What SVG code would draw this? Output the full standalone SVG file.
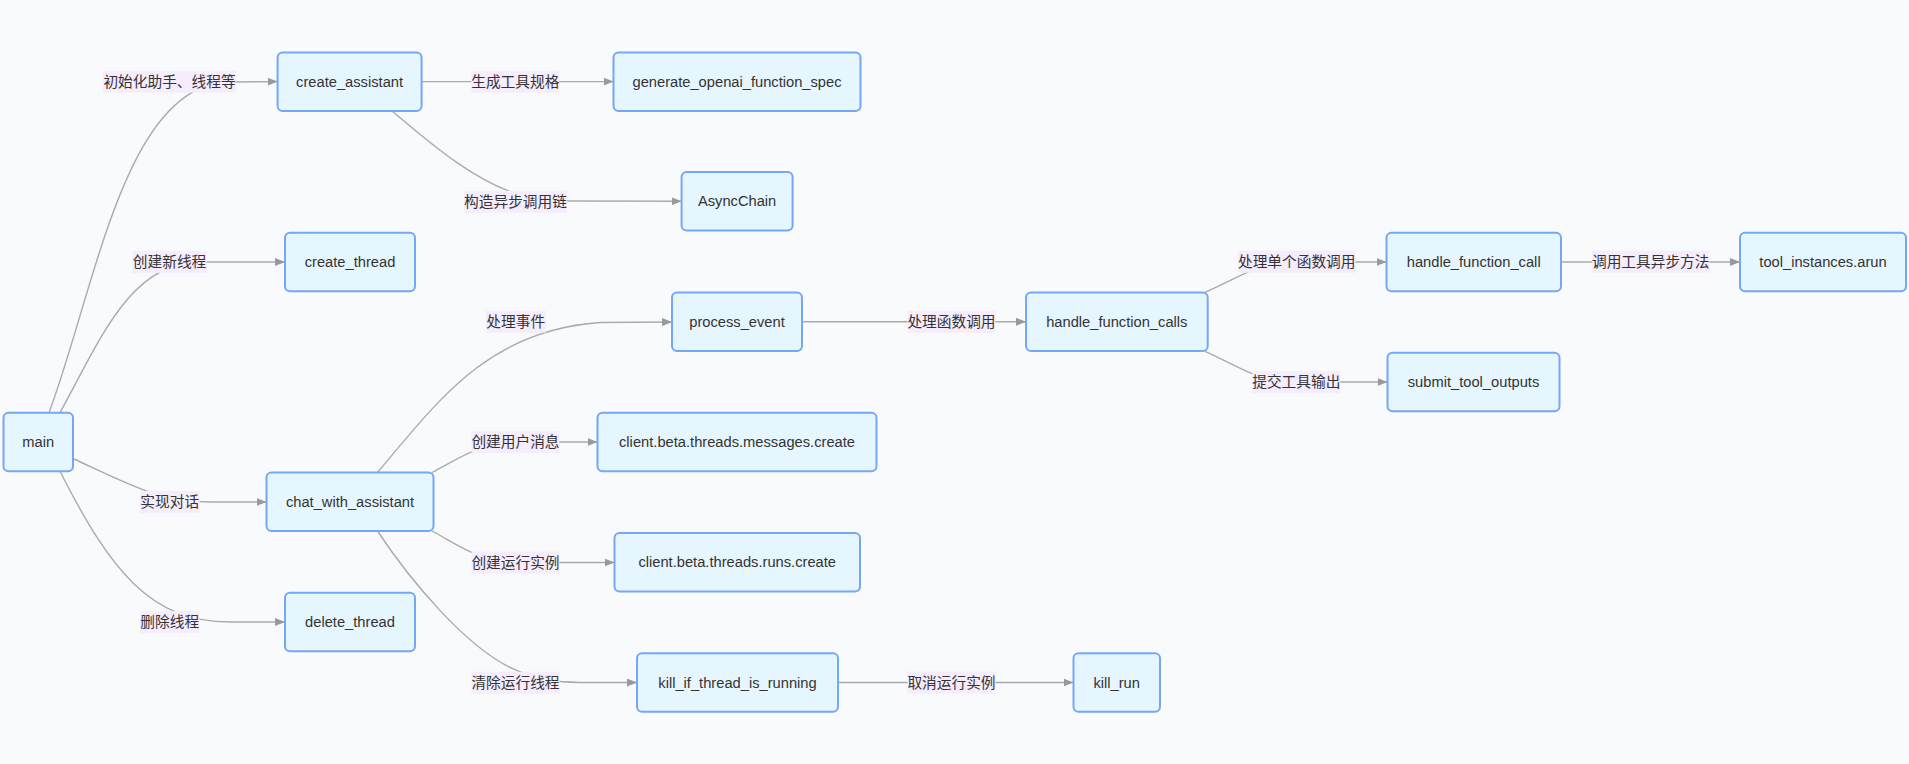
<svg xmlns="http://www.w3.org/2000/svg" width="1909" height="764" viewBox="0 0 1909 764">
<defs>
<style>
.node rect{fill:#e6f6ff;stroke:#76a6f7;stroke-width:2}
.node text{font-family:"Liberation Sans","Noto Sans CJK SC",sans-serif;font-size:14.7px;fill:#333;text-anchor:middle;dominant-baseline:central}
.edges path{fill:none;stroke:#aaaaaa;stroke-width:1.4}
.lbl rect{fill:#f5ecfc}
.lbl text{font-family:"Liberation Sans","Noto Sans CJK SC",sans-serif;font-size:14.7px;fill:#333;text-anchor:middle;dominant-baseline:central}
</style>
<marker id="arr" viewBox="0 0 10 8" refX="10" refY="4" markerWidth="10" markerHeight="8" markerUnits="userSpaceOnUse" orient="auto">
<path d="M0,0 L10,4 L0,8 z" fill="#999"/>
</marker>
</defs>
<rect x="0" y="0" width="1909" height="764" fill="#f9fafc"/>

<g class="edges">
<path marker-end="url(#arr)" d="M49,412.7 C95,290 125,82 230,82 L277.6,81.6"/>
<path marker-end="url(#arr)" d="M60,412.7 C100,340 130,262 200,262 L285,262"/>
<path marker-end="url(#arr)" d="M74,459 C130,485 160,502 210,502 L266.5,502"/>
<path marker-end="url(#arr)" d="M60,471.2 C110,570 150,622 230,622 L285,622"/>
<path marker-end="url(#arr)" d="M421.6,81.6 L613.5,81.6"/>
<path marker-end="url(#arr)" d="M392,111 C420,134 470,180 520,195 C545,201 560,201 580,201 L681.6,201.3"/>
<path marker-end="url(#arr)" d="M377.5,472.5 C440,398 490,330 600,322.5 L672,322"/>
<path marker-end="url(#arr)" d="M432,472.5 C460,458 480,442 520,442 L597.5,442"/>
<path marker-end="url(#arr)" d="M432,531 C460,546 480,562.5 520,562.5 L614.5,562.5"/>
<path marker-end="url(#arr)" d="M377.5,531 C400,565 470,660 530,675 C550,681 560,682.5 590,682.5 L637,682.5"/>
<path marker-end="url(#arr)" d="M802,321.8 L1026,321.8"/>
<path marker-end="url(#arr)" d="M1205,292.3 C1240,277 1260,262 1290,262 L1386.5,262"/>
<path marker-end="url(#arr)" d="M1205,351.3 C1240,367 1260,382 1290,382 L1387.5,382"/>
<path marker-end="url(#arr)" d="M1561,262 L1740,262"/>
<path marker-end="url(#arr)" d="M838,682.5 L1073.5,682.5"/>
</g>

<g class="lbl">
<rect x="103" y="70.7" width="133" height="22"/><text x="169.5" y="81.7">初始化助手、线程等</text>
<rect x="132.6" y="251" width="74" height="22"/><text x="169.6" y="262">创建新线程</text>
<rect x="140" y="491" width="59.5" height="22"/><text x="169.7" y="502">实现对话</text>
<rect x="140" y="611" width="59.5" height="22"/><text x="169.7" y="622">删除线程</text>
<rect x="471.3" y="70.7" width="88" height="22"/><text x="515.3" y="81.7">生成工具规格</text>
<rect x="464" y="190.7" width="103" height="22"/><text x="515.5" y="201.7">构造异步调用链</text>
<rect x="486" y="310.7" width="59.5" height="22"/><text x="515.7" y="321.7">处理事件</text>
<rect x="471.5" y="431" width="88" height="22"/><text x="515.5" y="442">创建用户消息</text>
<rect x="471.5" y="551.5" width="88" height="22"/><text x="515.5" y="562.5">创建运行实例</text>
<rect x="471.5" y="671.7" width="88" height="22"/><text x="515.5" y="682.7">清除运行线程</text>
<rect x="907.5" y="310.7" width="88" height="22"/><text x="951.5" y="321.7">处理函数调用</text>
<rect x="907.5" y="671.5" width="88" height="22"/><text x="951.5" y="682.5">取消运行实例</text>
<rect x="1238" y="250.7" width="117.5" height="22"/><text x="1296.7" y="261.7">处理单个函数调用</text>
<rect x="1252.3" y="371" width="88" height="22"/><text x="1296.3" y="382">提交工具输出</text>
<rect x="1592" y="250.7" width="117.5" height="22"/><text x="1650.7" y="261.7">调用工具异步方法</text>
</g>

<g id="main" class="node"><rect x="3.5" y="412.7" width="69.5" height="58.5" rx="5"/><text x="38.2" y="442">main</text></g>
<g id="create_assistant" class="node"><rect x="277.6" y="52.4" width="144" height="58.5" rx="5"/><text x="349.6" y="81.6">create_assistant</text></g>
<g id="generate_openai_function_spec" class="node"><rect x="613.5" y="52.4" width="247" height="58.5" rx="5"/><text x="737" y="81.6">generate_openai_function_spec</text></g>
<g id="AsyncChain" class="node"><rect x="681.6" y="172" width="111" height="58.5" rx="5"/><text x="737.1" y="201.3">AsyncChain</text></g>
<g id="create_thread" class="node"><rect x="285" y="232.7" width="130" height="58.5" rx="5"/><text x="350" y="262">create_thread</text></g>
<g id="process_event" class="node"><rect x="672" y="292.5" width="130" height="58.5" rx="5"/><text x="737" y="321.8">process_event</text></g>
<g id="handle_function_calls" class="node"><rect x="1026" y="292.5" width="181.7" height="58.5" rx="5"/><text x="1116.8" y="321.8">handle_function_calls</text></g>
<g id="handle_function_call" class="node"><rect x="1386.5" y="232.7" width="174.5" height="58.5" rx="5"/><text x="1473.7" y="262">handle_function_call</text></g>
<g id="tool_instances_arun" class="node"><rect x="1740" y="232.7" width="166" height="58.5" rx="5"/><text x="1823" y="262">tool_instances.arun</text></g>
<g id="submit_tool_outputs" class="node"><rect x="1387.5" y="352.7" width="172" height="58.5" rx="5"/><text x="1473.5" y="382">submit_tool_outputs</text></g>
<g id="messages_create" class="node"><rect x="597.5" y="412.7" width="279" height="58.5" rx="5"/><text x="737" y="442">client.beta.threads.messages.create</text></g>
<g id="chat_with_assistant" class="node"><rect x="266.5" y="472.5" width="167" height="58.5" rx="5"/><text x="350" y="501.8">chat_with_assistant</text></g>
<g id="runs_create" class="node"><rect x="614.5" y="533" width="245.5" height="58.5" rx="5"/><text x="737.2" y="562.3">client.beta.threads.runs.create</text></g>
<g id="delete_thread" class="node"><rect x="285" y="592.7" width="130" height="58.5" rx="5"/><text x="350" y="622">delete_thread</text></g>
<g id="kill_if_thread_is_running" class="node"><rect x="637" y="653.2" width="201" height="58.5" rx="5"/><text x="737.5" y="682.5">kill_if_thread_is_running</text></g>
<g id="kill_run" class="node"><rect x="1073.5" y="653.2" width="86.5" height="58.5" rx="5"/><text x="1116.7" y="682.5">kill_run</text></g>
</svg>
